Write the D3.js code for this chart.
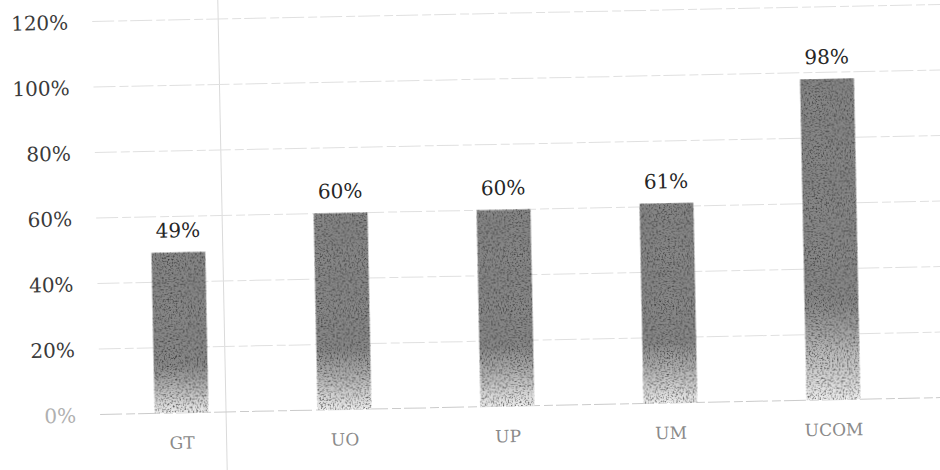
<!DOCTYPE html>
<html>
<head>
<meta charset="utf-8">
<script src="https://cdn.jsdelivr.net/npm/d3@7"></script>
<style>
  html, body { margin: 0; padding: 0; background: #fff; }
  svg { display: block; }
  text { font-family: "DejaVu Serif", serif; }
</style>
</head>
<body>
<svg id="chart" width="940" height="470"></svg>
<script>
// ---- data ----
const categories = ["GT", "UO", "UP", "UM", "UCOM"];
const values = [0.49, 0.60, 0.60, 0.61, 0.98];
const valueLabels = ["49%", "60%", "60%", "61%", "98%"];
const yTicks = [0, 0.2, 0.4, 0.6, 0.8, 1.0, 1.2];

// ---- layout ----
const W = 940, H = 470;
const left = 100, right = 915, baseY = 407, topY = 14;
const FONT = "'DejaVu Serif', serif";
const svg = d3.select("#chart");

const defs = svg.append("defs");
const grad = defs.append("linearGradient")
  .attr("id", "barGrad").attr("x1", 0).attr("y1", 0).attr("x2", 0).attr("y2", 1);
[[0, "#858585"], [0.7, "#878787"], [0.84, "#b4b4b4"], [1, "#ececec"]]
  .forEach(([o, c]) => grad.append("stop").attr("offset", o).attr("stop-color", c));

const noise = defs.append("filter").attr("id", "grain")
  .attr("x", 0).attr("y", 0).attr("width", 1).attr("height", 1)
  .attr("color-interpolation-filters", "sRGB");
noise.append("feTurbulence").attr("type", "fractalNoise")
  .attr("baseFrequency", 0.6).attr("numOctaves", 2).attr("seed", 3).attr("result", "t");
noise.append("feColorMatrix").attr("in", "t").attr("type", "matrix")
  .attr("values", "0 0 0 0 0.15  0 0 0 0 0.15  0 0 0 0 0.15  2.2 0 0 0 -1.05")
  .attr("result", "dots");
noise.append("feComposite").attr("in", "dots").attr("in2", "SourceGraphic")
  .attr("operator", "in").attr("result", "dotsIn");
noise.append("feMerge").call(m => {
  m.append("feMergeNode").attr("in", "SourceGraphic");
  m.append("feMergeNode").attr("in", "dotsIn");
});

const x = d3.scaleBand().domain(categories).range([left, right])
  .paddingInner(0.67).paddingOuter(0.335);
const y = d3.scaleLinear().domain([0, 1.2]).range([baseY, topY]);

// scan artifact: whole page slightly rotated
const g = svg.append("g").attr("transform", `rotate(-1.15, 470, ${baseY})`);

// fold line
g.append("line").attr("x1", 226).attr("x2", 226).attr("y1", -20).attr("y2", H + 20)
  .attr("stroke", "#dadada").attr("stroke-width", 1);

// gridlines
g.append("g").selectAll("line").data(yTicks).join("line")
  .attr("x1", left).attr("x2", W + 20)
  .attr("y1", d => y(d)).attr("y2", d => y(d))
  .attr("stroke", d => d === 0 ? "#cbcbcb" : "#e0e0e0")
  .attr("stroke-width", 1)
  .attr("stroke-dasharray", "22,4,9,3");

// y axis labels
const yAxis = d3.axisLeft(y).tickValues(yTicks).tickFormat(d3.format(".0%")).tickSize(0).tickPadding(0);
const ya = g.append("g").attr("transform", `translate(76,0)`).call(yAxis);
ya.attr("font-family", FONT);
ya.select(".domain").remove();
ya.selectAll("text")
  .attr("font-family", FONT)
  .attr("font-size", 20)
  .attr("fill", d => d === 0 ? "#b0b0b0" : "#3a3a3a")
  .attr("dy", "0.36em");

// bars
g.append("g").selectAll("rect").data(values).join("rect")
  .attr("x", (d, i) => x(categories[i]))
  .attr("width", x.bandwidth())
  .attr("y", d => y(d))
  .attr("height", d => y(0) - y(d))
  .attr("fill", "url(#barGrad)")
  .attr("filter", "url(#grain)");

// value labels
g.append("g").selectAll("text").data(values).join("text")
  .attr("x", (d, i) => x(categories[i]) + x.bandwidth() / 2)
  .attr("y", d => y(d) - 15)
  .attr("text-anchor", "middle")
  .attr("font-family", FONT)
  .attr("font-size", 20)
  .attr("fill", "#262626")
  .text((d, i) => valueLabels[i]);

// category axis labels
const xAxis = d3.axisBottom(x).tickSize(0).tickPadding(0);
const xa = g.append("g").attr("transform", `translate(0,${baseY + 30})`).call(xAxis);
xa.attr("font-family", FONT);
xa.select(".domain").remove();
xa.selectAll("text")
  .attr("font-family", FONT)
  .attr("font-size", 17)
  .attr("fill", "#8a8a8a")
  .attr("dy", "0.35em");
</script>
</body>
</html>
